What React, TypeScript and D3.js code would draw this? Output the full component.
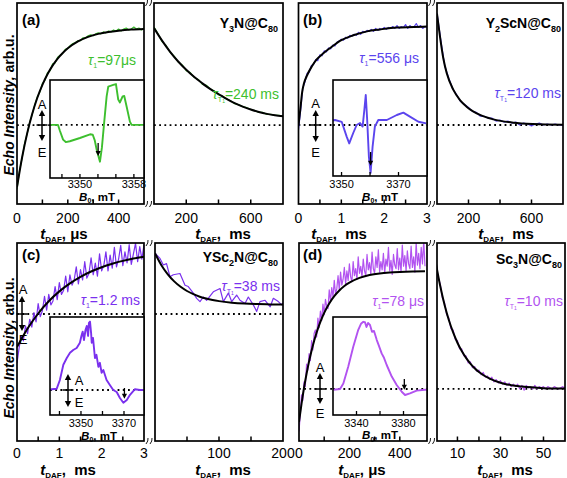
import React from "react";
import * as d3 from "d3";

const FONT = "Arial, 'Liberation Sans', Helvetica, sans-serif";

// ---------------- DATA ----------------
// (a) Y3N@C80
const A_RISE_STEP = 10; // μs
const A_RISE_DATA = [-0.66,-0.47,-0.34,-0.19,-0.09,0.03,0.11,0.21,0.29,0.34,0.43,0.46,0.54,0.56,0.63,0.64,0.70,0.72,0.74,0.78,0.79,0.82,0.84,0.85,0.87,0.87,0.90,0.90,0.92,0.93,0.92,0.94,0.95,0.94,0.96,0.95,0.97,0.96,0.98,0.97,0.99,0.97,0.99,1.00,0.98,0.99,1.01,0.99,1.00,0.98,1.00];
const A_RISE_FIT_T = [0,20,40,60,80,100,120,140,160,180,200,240,280,320,360,400,450,500];
const A_RISE_FIT = [-0.64,-0.335,-0.086,0.116,0.281,0.415,0.524,0.612,0.685,0.743,0.791,0.862,0.909,0.940,0.960,0.973,0.984,0.990];
const A_DECAY_STEP = 25; // ms
const A_DECAY_DATA = [1.01,0.94,0.86,0.82,0.75,0.71,0.65,0.62,0.56,0.54,0.49,0.47,0.42,0.41,0.37,0.35,0.31,0.30,0.27,0.25,0.22,0.21,0.19,0.18,0.16,0.15,0.13,0.13,0.11,0.11,0.10,0.10,0.09];
const A_DECAY_FIT_T = [0,50,100,150,200,250,300,350,400,450,500,550,600,650,700,750,800];
const A_DECAY_FIT = [1.0,0.87,0.755,0.655,0.57,0.495,0.43,0.37,0.32,0.27,0.225,0.19,0.16,0.135,0.115,0.10,0.09];
const A_INSET_B = [3345.56,3346.75,3347.04,3347.5,3347.9,3348.5,3350.0,3351.5,3351.9,3352.2,3352.5,3352.97,3353.26,3353.56,3353.96,3354.2,3354.94,3355.34,3355.68,3355.93,3356.33,3356.57,3356.92,3357.41,3357.66,3359.5];
const A_INSET_V = [0,0,-0.15,-0.36,-0.42,-0.40,-0.32,-0.23,-0.24,-0.38,-0.62,-0.90,-0.55,0.0,0.70,0.94,0.98,1.0,0.62,0.55,0.70,0.71,0.45,0.08,0.0,0];
const A_RISE_TICKS = [100,200,300,400];
const A_RISE_LABELS = [0,200,400];
const A_DECAY_TICKS = [200,400,600];
const A_DECAY_LABELS = [200,600];
const A_INSET_TICKS = [3347.33,3350,3352.67,3355.33,3358];
const A_INSET_LABELS = [3350,3358];

// (b) Y2ScN@C80
const B_RISE_STEP = 0.05; // ms
const B_RISE_DATA = [-0.05,0.15,0.38,0.44,0.53,0.54,0.61,0.62,0.67,0.66,0.72,0.71,0.76,0.75,0.79,0.78,0.82,0.81,0.85,0.86,0.88,0.87,0.90,0.89,0.92,0.91,0.93,0.92,0.95,0.93,0.96,0.95,0.97,0.96,0.98,0.96,0.99,0.97,0.99,0.98,1.00,0.98,1.00,0.99,1.01,0.99,1.02,0.99,1.01,1.00,1.03,0.99,1.02,1.00,1.01,1.04,1.00,1.02,0.99,1.01,1.00];
const B_RISE_FIT_T = [0,0.05,0.08,0.13,0.19,0.31,0.42,0.58,0.74,1.0,1.28,1.6,1.9,2.3,2.7,3.0];
const B_RISE_FIT = [0,0.19,0.32,0.43,0.50,0.60,0.67,0.735,0.79,0.87,0.92,0.96,0.98,1.0,1.005,1.01];
const B_DECAY_STEP = 25; // ms
const B_DECAY_DATA = [1.15,0.86,0.60,0.48,0.37,0.31,0.24,0.21,0.18,0.14,0.13,0.09,0.09,0.07,0.07,0.04,0.05,0.03,0.04,0.02,0.03,0.00,0.02,0.01,-0.01,0.01,0.02,0.00,0.01,0.00,0.01,0.00,-0.005];
const B_DECAY_FIT_T = [0,19,40,62,104,146,188,273,358,485,611,800];
const B_DECAY_FIT = [1.14,0.906,0.684,0.53,0.36,0.256,0.188,0.103,0.058,0.024,0.01,0.003];
const B_INSET_B = [3347.0,3347.7,3350.05,3351.8,3352.7,3354.1,3355.3,3356.5,3357.4,3358.0,3358.5,3359.0,3359.6,3360.2,3360.9,3361.7,3362.9,3365.9,3369.4,3371.7,3374.0,3377.0,3379.7];
const B_INSET_V = [0.12,0.125,0.08,-0.29,-0.46,-0.2,0.0,0.05,-0.04,0.375,0.75,0.125,-0.79,-1.2,-0.54,-0.04,0.125,0.125,0.25,0.31,0.21,0.08,0.04];
const B_RISE_TICKS = [0.5,1,1.5,2,2.5];
const B_RISE_LABELS = [0,1,2,3];
const B_DECAY_TICKS = [200,400,600];
const B_DECAY_LABELS = [200,600];
const B_INSET_TICKS = [3350,3360,3370];
const B_INSET_LABELS = [3350,3370];

// (c) YSc2N@C80
const C_RISE_STEP = 0.05; // ms
const C_RISE_DATA = [-0.75,-0.52,-0.33,-0.41,-0.18,-0.30,-0.08,-0.20,0.02,-0.12,0.16,-0.04,0.05,0.27,0.06,0.30,0.14,0.20,0.42,0.22,0.48,0.30,0.36,0.58,0.34,0.60,0.44,0.52,0.72,0.46,0.68,0.52,0.80,0.55,0.62,0.86,0.60,0.78,0.58,0.92,0.66,0.74,0.95,0.66,0.90,0.70,1.02,0.72,0.84,1.05,0.74,0.95,0.78,1.06,0.76,0.92,1.08,0.80,1.03,0.84,1.06];
const C_RISE_FIT_T = [0,0.25,0.5,0.75,1.0,1.25,1.5,1.75,2.0,2.25,2.5,2.75,3.0];
const C_RISE_FIT = [-0.505,-0.222,0.008,0.195,0.346,0.469,0.569,0.650,0.716,0.769,0.813,0.848,0.876];
const C_DECAY_T = [0,7.8,13,18,23.4,28.6,39,46.9,52,59.9,65.1,70.3,75.5,80.7,91.1,101.6,106.8,114.6,119.8,127.6,132.8,140.6,145.8,153.6,158.9,164,172,180,184.9,192.7,198,200];
const C_DECAY_DATA = [0.93,0.85,0.75,0.77,0.57,0.60,0.62,0.44,0.42,0.32,0.24,0.19,0.26,0.21,0.34,0.39,0.19,0.32,0.19,0.29,0.21,0.16,0.26,0.14,0.04,0.19,0.21,0.11,0.24,0.19,0.14,0.17];
const C_DECAY_FIT_T = [0,10,20,30,40,50,60,70,80,90,100,120,140,160,180,200];
const C_DECAY_FIT = [0.93,0.747,0.607,0.499,0.416,0.352,0.303,0.265,0.236,0.214,0.197,0.174,0.160,0.152,0.147,0.144];
const C_INSET_B = [3335.6,3336.4,3338.7,3340.2,3341.8,3343.4,3344.9,3346.4,3348.0,3349.5,3350.2,3350.8,3351.4,3352.1,3352.7,3353.3,3353.7,3354.2,3354.7,3355.0,3355.6,3356.5,3357.2,3358.1,3358.8,3359.6,3360.4,3361.9,3363.5,3365.0,3366.6,3368.1,3369.7,3371.3,3372.8,3375.1,3377.4,3379.0];
const C_INSET_V = [0.0,0.02,0.03,0.25,0.63,0.80,0.93,1.0,1.05,1.18,1.35,1.46,1.25,1.5,1.6,1.35,1.68,1.71,1.43,1.18,1.30,0.80,0.88,0.58,0.68,0.43,0.50,0.25,0.12,0.0,-0.05,-0.20,-0.32,-0.25,-0.12,0.02,0.0,0.0];
const C_RISE_TICKS = [0.5,1,1.5,2,2.5];
const C_RISE_LABELS = [0,1,2,3];
const C_DECAY_TICKS = [50,100,150];
const C_DECAY_LABELS = [100,200];
const C_INSET_TICKS = [3340,3350,3360,3370];
const C_INSET_LABELS = [3350,3370];

// (d) Sc3N@C80
const D_RISE_STEP = 5; // μs
const D_RISE_DATA = [-0.36,-0.22,-0.05,-0.10,0.06,0.02,0.21,0.16,0.30,0.24,0.41,0.33,0.47,0.50,0.44,0.60,0.52,0.66,0.58,0.72,0.63,0.76,0.70,0.68,0.84,0.74,0.86,0.78,0.92,0.80,0.85,0.96,0.84,0.99,0.88,0.93,1.03,0.89,1.00,0.92,1.06,0.95,0.91,1.08,0.96,1.02,0.93,1.12,0.98,1.04,0.95,1.10,1.00,0.96,1.14,1.01,1.07,0.97,1.16,1.02,0.98,1.12,1.03,1.18,0.99,1.08,1.01,1.15,0.98,1.10,1.04,1.20,1.00,1.09,0.97,1.14,1.05,1.02,1.19,1.01,1.11,0.99,1.22,1.04,1.13,1.00,1.17,1.06,1.02,1.21,1.03,1.12,0.99,1.24,1.05,1.15,1.02,1.20,1.06,1.26,1.04];
const D_RISE_FIT_T = [0,10,20,30,40,50,60,70,80,90,100,120,140,160,180,200,240,280,320,360,400,450,500];
const D_RISE_FIT = [-0.28,-0.126,0.010,0.129,0.234,0.326,0.407,0.478,0.541,0.596,0.645,0.725,0.787,0.835,0.873,0.901,0.941,0.965,0.979,0.987,0.992,0.996,0.998];
const D_DECAY_STEP = 1; // ms
const D_DECAY_DATA = [1.08,0.95,0.89,0.77,0.73,0.63,0.60,0.51,0.50,0.42,0.41,0.34,0.34,0.28,0.28,0.22,0.23,0.18,0.19,0.15,0.16,0.12,0.14,0.10,0.11,0.08,0.10,0.06,0.08,0.05,0.07,0.04,0.06,0.03,0.05,0.02,0.04,0.02,0.04,0.00,0.03,-0.01,0.03,0.01,0.02,0.00,0.03,0.00,0.02,0.01,0.02,0.00,0.02,0.01,0.00,0.02,0.01,0.00,0.01,0.02,0.00];
const D_DECAY_FIT_T = [0,2,4,6,8,10,12,14,16,18,20,25,30,35,40,50,60];
const D_DECAY_FIT = [1.065,0.872,0.714,0.584,0.479,0.392,0.321,0.263,0.215,0.176,0.144,0.087,0.053,0.032,0.020,0.007,0.003];
const D_INSET_B = [3320.3,3326,3328.8,3333.0,3337.3,3341.5,3343.8,3345.8,3347.2,3348.5,3349.8,3351.5,3353.2,3354.9,3357.2,3359.1,3361.4,3363.4,3365.7,3370.0,3374.2,3378.5,3381.3,3385.5,3391.2,3398.3,3400];
const D_INSET_V = [-0.02,0,0.14,0.56,1.06,1.48,1.63,1.68,1.67,1.55,1.65,1.60,1.43,1.45,1.23,1.08,0.89,0.78,0.60,0.31,0.10,-0.07,-0.15,-0.11,-0.04,-0.02,-0.02];
const D_RISE_TICKS = [100,200,300,400];
const D_RISE_LABELS = [0,200,400];
const D_DECAY_TICKS = [10,20,30,40,50];
const D_DECAY_LABELS = [10,30,50];
const D_INSET_TICKS = [3340,3360,3380];
const D_INSET_LABELS = [3340,3380];

// ---------------- helpers ----------------
const sampleTimes = (step: number, n: number) =>
  Array.from({ length: n }, (_, i) => +(i * step).toFixed(4));

function pathOf(xv: number[], yv: number[], xs: any, ys: any, curve: any = d3.curveLinear) {
  const gen = d3
    .line<number>()
    .x((_, i) => xs(xv[i]))
    .y((d) => ys(d))
    .curve(curve);
  return gen(yv) || "";
}

const GREEN = "#3dbf2e";
const BLUE = "#5b45ee";
const PURPLE = "#7a30ee";
const VIOLET = "#b253f0";

type Series = { x: number[]; y: number[] };
type Sub = {
  box: [number, number, number, number];
  xDomain: [number, number];
  ticks: number[];
  labels: number[];
  data: Series;
  fit: Series;
  title: { cx: number; unit: string };
};

const PANELS: any[] = [
  {
    id: "a",
    color: GREEN,
    yDomain: [-0.814, 1.258],
    tickY: 223,
    titleY: 239,
    left: {
      box: [17, 3, 144, 204], xDomain: [0, 500], ticks: A_RISE_TICKS, labels: A_RISE_LABELS,
      data: { x: sampleTimes(A_RISE_STEP, A_RISE_DATA.length), y: A_RISE_DATA },
      fit: { x: A_RISE_FIT_T, y: A_RISE_FIT }, title: { cx: 64, unit: "μs" },
    },
    right: {
      box: [154, 3, 283, 204], xDomain: [0, 800], ticks: A_DECAY_TICKS, labels: A_DECAY_LABELS,
      data: { x: sampleTimes(A_DECAY_STEP, A_DECAY_DATA.length), y: A_DECAY_DATA },
      fit: { x: A_DECAY_FIT_T, y: A_DECAY_FIT }, title: { cx: 223, unit: "ms" },
    },
    inset: {
      box: [50, 80, 144, 178], xDomain: [3345.56, 3359.5], yDomain: [-1.3, 1.1],
      x: A_INSET_B, y: A_INSET_V, ticks: A_INSET_TICKS, labels: A_INSET_LABELS,
      arrow: { b: 3352.7, v1: -0.44, v2: -0.76 }, labelY: 187.5, titleY: 200.5, titleCx: 97,
    },
    letter: { x: 22, y: 25, t: "(a)" },
    compound: { x: 278, y: 28, parts: ["Y", "3", "N@C", "80"] },
    tau1: { x: 136, y: 65, t: "=97μs" },
    tauT: { x: 279, y: 99, t: "=240 ms" },
    ae: [{ x: 42, y1: 110, y2: 141, base: 125, ax: 42, ay: 108.5, ex: 42, ey: 157 }],
    breaks: { cx: 149, y: [3, 204] },
  },
  {
    id: "b",
    color: BLUE,
    yDomain: [-0.81, 1.251],
    tickY: 223,
    titleY: 239,
    left: {
      box: [298.5, 3, 427, 204], xDomain: [0, 3], ticks: B_RISE_TICKS, labels: B_RISE_LABELS,
      data: { x: sampleTimes(B_RISE_STEP, B_RISE_DATA.length), y: B_RISE_DATA },
      fit: { x: B_RISE_FIT_T, y: B_RISE_FIT }, title: { cx: 339, unit: "ms" },
    },
    right: {
      box: [437, 3, 563, 204], xDomain: [0, 800], ticks: B_DECAY_TICKS, labels: B_DECAY_LABELS,
      data: { x: sampleTimes(B_DECAY_STEP, B_DECAY_DATA.length), y: B_DECAY_DATA },
      fit: { x: B_DECAY_FIT_T, y: B_DECAY_FIT }, title: { cx: 506, unit: "ms" },
    },
    inset: {
      box: [333, 80, 427, 176], xDomain: [3347, 3380], yDomain: [-1.275, 1.125],
      x: B_INSET_B, y: B_INSET_V, ticks: B_INSET_TICKS, labels: B_INSET_LABELS,
      arrow: { b: 3360.2, v1: -0.675, v2: -1.02 }, labelY: 187.5, titleY: 200.5, titleCx: 380,
    },
    letter: { x: 303, y: 25, t: "(b)" },
    compound: { x: 561, y: 28, parts: ["Y", "2", "ScN@C", "80"] },
    tau1: { x: 419, y: 63, t: "=556 μs" },
    tauT: { x: 561, y: 98, t: "=120 ms" },
    ae: [{ x: 315.7, y1: 110, y2: 142, base: 125, ax: 315.7, ay: 108, ex: 315.7, ey: 157 }],
    breaks: { cx: 432, y: [3, 204] },
  },
  {
    id: "c",
    color: PURPLE,
    yDomain: [-1.942, 1.086],
    tickY: 458,
    titleY: 474.5,
    left: {
      box: [17, 243, 144, 441], xDomain: [0, 3], ticks: C_RISE_TICKS, labels: C_RISE_LABELS,
      data: { x: sampleTimes(C_RISE_STEP, C_RISE_DATA.length), y: C_RISE_DATA },
      fit: { x: C_RISE_FIT_T, y: C_RISE_FIT }, title: { cx: 68, unit: "ms" },
    },
    right: {
      box: [155, 243, 283, 441], xDomain: [0, 200], ticks: C_DECAY_TICKS, labels: C_DECAY_LABELS,
      data: { x: C_DECAY_T, y: C_DECAY_DATA },
      fit: { x: C_DECAY_FIT_T, y: C_DECAY_FIT }, title: { cx: 223, unit: "ms" },
    },
    inset: {
      box: [50, 317, 144, 415], xDomain: [3335.6, 3379.3], yDomain: [-0.625, 1.825],
      x: C_INSET_B, y: C_INSET_V, ticks: C_INSET_TICKS, labels: C_INSET_LABELS,
      arrow: { b: 3370.2, v1: 0.05, v2: -0.22 }, labelY: 426.5, titleY: 439.5, titleCx: 99,
    },
    letter: { x: 22, y: 260, t: "(c)" },
    compound: { x: 278, y: 262, parts: ["YSc", "2", "N@C", "80"] },
    tau1: { x: 140, y: 305, t: "=1.2 ms" },
    tauT: { x: 280, y: 291, t: "=38 ms" },
    ae: [
      { x: 22, y1: 296, y2: 331, base: 314, ax: 23, ay: 294, ex: 23, ey: 344 },
      { x: 68, y1: 374, y2: 407, base: 390, ax: 79, ay: 385, ex: 79, ey: 407 },
    ],
    breaks: { cx: 149.5, y: [243, 441] },
  },
  {
    id: "d",
    color: VIOLET,
    yDomain: [-0.441, 1.237],
    tickY: 458,
    titleY: 474.5,
    left: {
      box: [299, 243, 427, 441], xDomain: [0, 508], ticks: D_RISE_TICKS, labels: D_RISE_LABELS,
      data: { x: sampleTimes(D_RISE_STEP, D_RISE_DATA.length), y: D_RISE_DATA },
      fit: { x: D_RISE_FIT_T, y: D_RISE_FIT }, title: { cx: 362, unit: "μs" },
    },
    right: {
      box: [437, 243, 565, 441], xDomain: [0.5, 60], ticks: D_DECAY_TICKS, labels: D_DECAY_LABELS,
      data: { x: sampleTimes(D_DECAY_STEP, D_DECAY_DATA.length), y: D_DECAY_DATA },
      fit: { x: D_DECAY_FIT_T, y: D_DECAY_FIT }, title: { cx: 505, unit: "ms" },
    },
    inset: {
      box: [333, 317, 427, 415], xDomain: [3320, 3400], yDomain: [-0.65, 1.8],
      x: D_INSET_B, y: D_INSET_V, ticks: D_INSET_TICKS, labels: D_INSET_LABELS,
      arrow: { b: 3380.7, v1: 0.25, v2: -0.02 }, labelY: 426.5, titleY: 439, titleCx: 380,
    },
    letter: { x: 303, y: 260, t: "(d)" },
    compound: { x: 562, y: 264, parts: ["Sc", "3", "N@C", "80"] },
    tau1: { x: 424, y: 306, t: "=78 μs" },
    tauT: { x: 563, y: 306, t: "=10 ms" },
    ae: [{ x: 320, y1: 373, y2: 404, base: 389, ax: 320, ay: 372, ex: 320, ey: 418 }],
    breaks: { cx: 432, y: [243, 441] },
  },
];

// ---------------- components ----------------
function AxisTitle({ cx, y, unit }: { cx: number; y: number; unit: string }) {
  return (
    <text x={cx} y={y} textAnchor="middle" fontWeight="bold" fontSize={15} fill="#000">
      <tspan fontStyle="italic">t</tspan>
      <tspan fontSize={8} dy={3}>DAF</tspan>
      <tspan dy={-3}>{unit === "ms" ? ",\u00A0 ms" : ", μs"}</tspan>
    </text>
  );
}

function SubPlot({ s, yDomain, color, id, tickY, titleY }: any) {
  const sub: Sub = s;
  const [x0, y0, x1, y1] = sub.box;
  const xs = d3.scaleLinear().domain(sub.xDomain).range([x0, x1]);
  const ys = d3.scaleLinear().domain(yDomain).range([y1, y0]);
  return (
    <g>
      <defs>
        <clipPath id={"clip" + id}>
          <rect x={x0} y={y0} width={x1 - x0} height={y1 - y0} />
        </clipPath>
      </defs>
      <rect x={x0} y={y0} width={x1 - x0} height={y1 - y0} fill="#fff" />
      <line x1={x0} x2={x1} y1={ys(0)} y2={ys(0)} stroke="#000" strokeWidth={1.8} strokeDasharray="1.8 3.4" />
      <g clipPath={`url(#clip${id})`}>
        <path d={pathOf(sub.data.x, sub.data.y, xs, ys)} fill="none" stroke={color} strokeWidth={1.2} strokeLinejoin="round" />
        <path d={pathOf(sub.fit.x, sub.fit.y, xs, ys, d3.curveMonotoneX)} fill="none" stroke="#000" strokeWidth={2} />
      </g>
      <rect x={x0} y={y0} width={x1 - x0} height={y1 - y0} fill="none" stroke="#000" strokeWidth={1.7} />
      {sub.ticks.map((t) => (
        <line key={t} x1={xs(t)} x2={xs(t)} y1={y1} y2={y1 - 4.5} stroke="#000" strokeWidth={1.5} />
      ))}
      {sub.labels.map((v) => (
        <text key={v} x={xs(v)} y={tickY} textAnchor="middle" fontSize={14} fill="#000">
          {v}
        </text>
      ))}
      <AxisTitle cx={sub.title.cx} y={titleY} unit={sub.title.unit} />
    </g>
  );
}

function DownArrow({ x, y1, y2 }: { x: number; y1: number; y2: number }) {
  const h = 5;
  return (
    <g>
      <line x1={x} x2={x} y1={y1} y2={y2 - h + 1} stroke="#000" strokeWidth={1.3} />
      <path d={`M${x - 2.6},${y2 - h} L${x + 2.6},${y2 - h} L${x},${y2} Z`} fill="#000" />
    </g>
  );
}

function Inset({ ins, color, id }: any) {
  const [x0, y0, x1, y1] = ins.box;
  const xs = d3.scaleLinear().domain(ins.xDomain).range([x0, x1]);
  const ys = d3.scaleLinear().domain(ins.yDomain).range([y1, y0]);
  return (
    <g>
      <defs>
        <clipPath id={"clip" + id}>
          <rect x={x0} y={y0} width={x1 - x0} height={y1 - y0} />
        </clipPath>
      </defs>
      <rect x={x0} y={y0} width={x1 - x0} height={y1 - y0} fill="#fff" />
      <line x1={x0} x2={x1} y1={ys(0)} y2={ys(0)} stroke="#000" strokeWidth={1.8} strokeDasharray="1.8 3.4" />
      <g clipPath={`url(#clip${id})`}>
        <path d={pathOf(ins.x, ins.y, xs, ys)} fill="none" stroke={color} strokeWidth={1.9} strokeLinejoin="round" />
      </g>
      <DownArrow x={xs(ins.arrow.b)} y1={ys(ins.arrow.v1)} y2={ys(ins.arrow.v2)} />
      <rect x={x0} y={y0} width={x1 - x0} height={y1 - y0} fill="none" stroke="#000" strokeWidth={1.6} />
      {ins.ticks.map((t: number) => (
        <line key={t} x1={xs(t)} x2={xs(t)} y1={y1} y2={y1 - 4} stroke="#000" strokeWidth={1.3} />
      ))}
      {ins.labels.map((v: number) => (
        <text key={v} x={xs(v)} y={ins.labelY} textAnchor="middle" fontSize={11} fill="#000">
          {v}
        </text>
      ))}
      <text x={ins.titleCx} y={ins.titleY} textAnchor="middle" fontSize={11.5} fontWeight="bold" fill="#000">
        <tspan fontStyle="italic">B</tspan>
        <tspan fontSize={7} dy={2.5}>0</tspan>
        <tspan dy={-2.5}>, mT</tspan>
      </text>
    </g>
  );
}

function AEArrow({ a }: any) {
  const h = 6;
  const { x, y1, y2, base } = a;
  return (
    <g>
      <line x1={x} x2={x} y1={y1 + h - 1} y2={y2 - h + 1} stroke="#000" strokeWidth={1.5} />
      <path d={`M${x - 3.2},${y1 + h} L${x + 3.2},${y1 + h} L${x},${y1} Z`} fill="#000" />
      <path d={`M${x - 3.2},${y2 - h} L${x + 3.2},${y2 - h} L${x},${y2} Z`} fill="#000" />
      <line x1={x - 5.5} x2={x + 5.5} y1={base} y2={base} stroke="#000" strokeWidth={1.5} />
      <text x={a.ax} y={a.ay} textAnchor="middle" fontSize={13} fill="#000">A</text>
      <text x={a.ex} y={a.ey} textAnchor="middle" fontSize={13} fill="#000">E</text>
    </g>
  );
}

function Breaks({ b }: any) {
  return (
    <g>
      {b.y.map((y: number) => (
        <g key={y}>
          <rect x={b.cx - 4} y={y - 4} width={8} height={8} fill="#fff" />
          <path d={`M${b.cx - 3.5},${y + 3} Q${b.cx - 1},${y} ${b.cx - 1.5},${y - 3}`} fill="none" stroke="#000" strokeWidth={0.9} />
          <path d={`M${b.cx + 0.5},${y + 3} Q${b.cx + 3},${y} ${b.cx + 2.5},${y - 3}`} fill="none" stroke="#000" strokeWidth={0.9} />
        </g>
      ))}
    </g>
  );
}

function Panel({ p }: any) {
  const c = p.compound;
  return (
    <g>
      <SubPlot s={p.left} yDomain={p.yDomain} color={p.color} id={p.id + "L"} tickY={p.tickY} titleY={p.titleY} />
      <SubPlot s={p.right} yDomain={p.yDomain} color={p.color} id={p.id + "R"} tickY={p.tickY} titleY={p.titleY} />
      <Inset ins={p.inset} color={p.color} id={p.id + "I"} />
      {p.ae.map((a: any, i: number) => (
        <AEArrow key={i} a={a} />
      ))}
      <Breaks b={p.breaks} />
      <text x={p.letter.x} y={p.letter.y} fontSize={15} fontWeight="bold" fill="#000">
        {p.letter.t}
      </text>
      <text x={c.x} y={c.y} textAnchor="end" fontSize={14} fontWeight="bold" fill="#000">
        <tspan>{c.parts[0]}</tspan>
        <tspan fontSize={9} dy={4}>{c.parts[1]}</tspan>
        <tspan dy={-4}>{c.parts[2]}</tspan>
        <tspan fontSize={9} dy={4}>{c.parts[3]}</tspan>
      </text>
      <text x={p.tau1.x} y={p.tau1.y} textAnchor="end" fontSize={14} fill={p.color}>
        <tspan fontStyle="italic">τ</tspan>
        <tspan fontSize={7} dy={3}>1</tspan>
        <tspan dy={-3}>{p.tau1.t}</tspan>
      </text>
      <text x={p.tauT.x} y={p.tauT.y} textAnchor="end" fontSize={14} fill={p.color}>
        <tspan fontStyle="italic">τ</tspan>
        <tspan fontSize={7} dy={3}>T</tspan>
        <tspan fontSize={5} dy={1}>1</tspan>
        <tspan dy={-4}>{p.tauT.t}</tspan>
      </text>
    </g>
  );
}

function YLabel({ x, cy }: { x: number; cy: number }) {
  return (
    <text transform={`translate(${x},${cy}) rotate(-90)`} textAnchor="middle" fontSize={14} fontWeight="bold" fill="#000">
      <tspan fontStyle="italic">Echo Intensity,</tspan>
      <tspan> arb.u.</tspan>
    </text>
  );
}

export default function App() {
  return (
    <svg
      width={567}
      height={478}
      viewBox="0 0 567 478"
      style={{ position: "absolute", left: 0, top: 0, background: "#fff" }}
      fontFamily={FONT}
    >
      <rect width={567} height={478} fill="#fff" />
      {PANELS.map((p) => (
        <Panel key={p.id} p={p} />
      ))}
      <YLabel x={14} cy={105} />
      <YLabel x={14} cy={348} />
    </svg>
  );
}
